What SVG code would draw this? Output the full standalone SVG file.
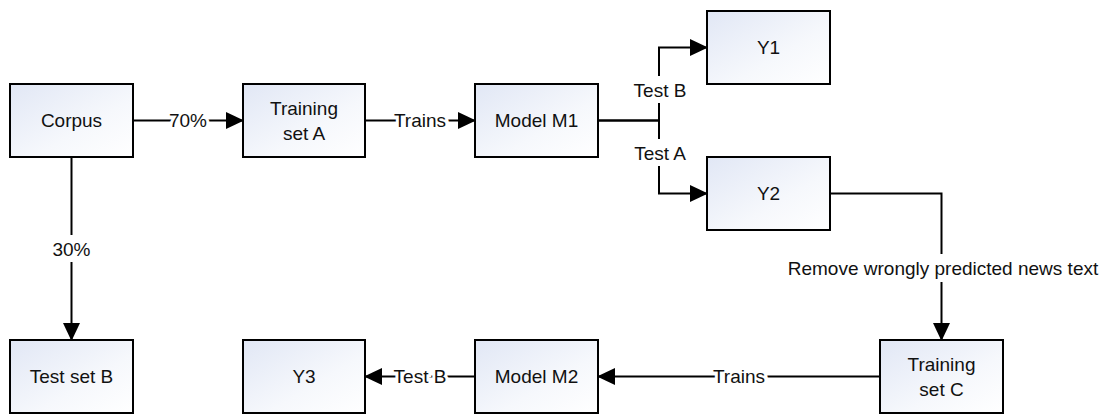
<svg xmlns="http://www.w3.org/2000/svg" width="1105" height="414" viewBox="0 0 1105 414">
<style>
.box{fill:url(#g);stroke:#000;stroke-width:2}
.t{font-family:"Liberation Sans",Arial,sans-serif;font-size:19px;fill:#111;text-anchor:middle;dominant-baseline:central}
.c{fill:none;stroke:#000;stroke-width:2}
.lbl{font-family:"Liberation Sans",Arial,sans-serif;font-size:19px;fill:#111;text-anchor:middle;dominant-baseline:central;stroke:#fff;stroke-width:6;paint-order:stroke}
.bg{fill:#fff}
</style>
<defs>
<linearGradient id="g" x1="0" y1="0" x2="1" y2="1">
<stop offset="0" stop-color="#e1e7f5"/>
<stop offset="0.6" stop-color="#f6f8fc"/>
<stop offset="1" stop-color="#ffffff"/>
</linearGradient>
<marker id="a" viewBox="0 0 18 18" refX="17" refY="9" markerWidth="18" markerHeight="18" markerUnits="userSpaceOnUse" orient="auto">
<path d="M0,0.5 L18,9 L0,17.5 z" fill="#000"/>
</marker>
</defs>
<g id="connectors">
<path class="c" d="M133,120.5 H243" marker-end="url(#a)"/>
<path class="c" d="M365,120.5 H475" marker-end="url(#a)"/>
<path class="c" d="M598,120.5 H659 V47.5 H707" marker-end="url(#a)"/>
<path class="c" d="M598,120.5 H659 V193.5 H707" marker-end="url(#a)"/>
<path class="c" d="M71.5,157 V340" marker-end="url(#a)"/>
<path class="c" d="M830,193.5 H941.5 V340" marker-end="url(#a)"/>
<path class="c" d="M880,376.5 H598" marker-end="url(#a)"/>
<path class="c" d="M475,376.5 H365" marker-end="url(#a)"/>
<rect class="bg" x="632" y="76" width="56" height="27"/>
<rect class="bg" x="632" y="139" width="56" height="27"/>
<rect class="bg" x="53" y="235" width="38" height="27"/>
<rect class="bg" x="786" y="254" width="314" height="28"/>
<text class="lbl" x="188" y="120.5">70%</text>
<text class="lbl" x="420" y="120.5">Trains</text>
<text class="t" x="660" y="90">Test B</text>
<text class="t" x="660" y="153">Test A</text>
<text class="t" x="71.5" y="249">30%</text>
<text class="t" x="943" y="268">Remove wrongly predicted news text</text>
<text class="lbl" x="739" y="376.5">Trains</text>
<text class="lbl" x="420" y="376.5">Test B</text>
</g>
<g id="corpus"><rect class="box" x="10" y="84" width="123" height="73"/><text class="t" x="71.5" y="120.5">Corpus</text></g>
<g id="training-set-a"><rect class="box" x="243" y="84" width="122" height="73"/><text class="t" x="304" y="108">Training</text><text class="t" x="304" y="133">set A</text></g>
<g id="model-m1"><rect class="box" x="475" y="84" width="123" height="73"/><text class="t" x="536.5" y="120.5">Model M1</text></g>
<g id="y1"><rect class="box" x="707" y="11" width="123" height="73"/><text class="t" x="768.5" y="47.5">Y1</text></g>
<g id="y2"><rect class="box" x="707" y="157" width="123" height="73"/><text class="t" x="768.5" y="193.5">Y2</text></g>
<g id="test-set-b"><rect class="box" x="10" y="340" width="123" height="73"/><text class="t" x="71.5" y="376.5">Test set B</text></g>
<g id="y3"><rect class="box" x="243" y="340" width="122" height="73"/><text class="t" x="304" y="376.5">Y3</text></g>
<g id="model-m2"><rect class="box" x="475" y="340" width="123" height="73"/><text class="t" x="536.5" y="376.5">Model M2</text></g>
<g id="training-set-c"><rect class="box" x="880" y="340" width="123" height="73"/><text class="t" x="941.5" y="364">Training</text><text class="t" x="941.5" y="389">set C</text></g>
</svg>
